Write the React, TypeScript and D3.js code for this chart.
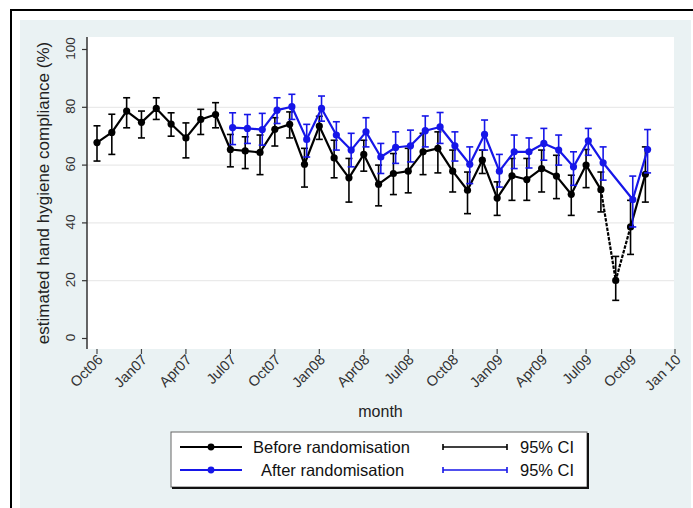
import { useEffect, useRef } from 'react'
import * as d3 from 'd3'

const W = 693
const H = 508

// months are counted from Oct 2006 (= 0)
const tickMonths = [0, 3, 6, 9, 12, 15, 18, 21, 24, 27, 30, 33, 36, 39]
const tickLabels = ['Oct06', 'Jan07', 'Apr07', 'Jul07', 'Oct07', 'Jan08', 'Apr08', 'Jul08', 'Oct08', 'Jan09', 'Apr09', 'Jul09', 'Oct09', 'Jan 10']
const yTicks = [0, 20, 40, 60, 80, 100]

const beforeMonth = [0, 1, 2, 3, 4, 5, 6, 7, 8, 9, 10, 11, 12, 13, 14, 15, 16, 17, 18, 19, 20, 21, 22, 23, 24, 25, 26, 27, 28, 29, 30, 31, 32, 33, 34, 35, 36, 37]
const beforeEst = [67.8, 71.3, 78.7, 74.8, 79.6, 74.2, 69.4, 75.8, 77.5, 65.4, 64.9, 64.4, 72.4, 74.1, 60.3, 73.5, 62.5, 55.6, 63.7, 53.4, 57.1, 57.9, 64.6, 65.8, 57.9, 51.3, 61.7, 48.6, 56.3, 55.0, 58.8, 56.2, 49.9, 60.0, 51.5, 20.1, 38.6, 56.8]
const beforeLo = [61.4, 63.7, 72.9, 69.4, 75.8, 70.0, 62.5, 70.6, 72.9, 59.4, 58.8, 56.7, 66.6, 69.4, 52.4, 68.9, 55.6, 47.2, 57.9, 45.9, 49.8, 50.4, 56.7, 57.3, 50.7, 43.2, 57.1, 42.6, 47.8, 47.8, 50.7, 48.4, 42.6, 52.2, 43.8, 13.2, 29.1, 47.2]
const beforeHi = [73.6, 77.6, 83.3, 78.7, 83.3, 78.1, 74.6, 79.3, 81.6, 70.6, 69.8, 70.4, 76.4, 78.4, 65.8, 76.9, 68.6, 62.3, 68.6, 60.0, 64.0, 65.8, 71.0, 71.5, 65.2, 57.6, 65.2, 54.2, 62.3, 62.3, 65.2, 63.4, 56.5, 65.4, 57.6, 28.4, 47.8, 66.3]
// the drop around Sep09 is drawn dashed
const beforeDashed = [34, 36]

// no "after" estimate for Sep09
const afterMonth = [9, 10, 11, 12, 13, 14, 15, 16, 17, 18, 19, 20, 21, 22, 23, 24, 25, 26, 27, 28, 29, 30, 31, 32, 33, 34, 36, 37]
const afterEst = [73.0, 72.7, 72.3, 79.0, 80.2, 68.9, 79.6, 70.4, 65.2, 71.5, 62.8, 66.1, 66.7, 71.9, 73.2, 66.7, 60.3, 70.6, 57.9, 64.6, 64.6, 67.5, 65.2, 59.4, 68.4, 60.8, 48.1, 65.4]
const afterLo = [67.1, 67.5, 66.9, 74.4, 75.8, 62.8, 75.2, 65.2, 59.4, 66.3, 57.1, 60.6, 61.1, 66.3, 67.5, 61.4, 53.6, 65.2, 52.4, 58.8, 59.0, 61.7, 60.0, 53.0, 63.4, 54.8, 38.6, 57.3]
const afterHi = [78.1, 77.5, 77.9, 83.3, 84.5, 74.1, 83.9, 75.0, 71.0, 76.4, 67.5, 71.5, 72.1, 77.0, 78.2, 71.5, 66.3, 75.6, 63.7, 70.4, 69.4, 72.7, 70.4, 64.6, 72.7, 66.3, 56.2, 72.3]
// after-randomisation points sit a few days later in the month
const afterShift = 0.15

const BLUE = '#1616e8'
const FONT = '"Liberation Sans", Arial, Helvetica, sans-serif'

export default function App() {
  const svgRef = useRef<SVGSVGElement>(null)

  useEffect(() => {
    if (!svgRef.current) return
    const svg = d3.select(svgRef.current)
    svg.selectAll('*').remove()
    svg.attr('font-family', FONT)

    const plot = { left: 87, right: 674, top: 37, bottom: 349 }
    const x = d3.scaleLinear().domain([0, 39]).range([97, 675])
    const y = d3.scaleLinear().domain([0, 100]).range([338.5, 49.5])

    // page, graph region, frame
    svg.append('rect').attr('width', W).attr('height', H).attr('fill', '#fff')
    svg.append('rect')
      .attr('x', 20).attr('y', 20)
      .attr('width', W - 22).attr('height', H - 20)
      .attr('fill', '#eaf2f3')
    svg.append('path')
      .attr('d', `M11,${H} V10 H${W}`)
      .attr('fill', 'none').attr('stroke', '#000').attr('stroke-width', 2)

    svg.append('rect')
      .attr('x', plot.left).attr('y', plot.top)
      .attr('width', plot.right - plot.left).attr('height', plot.bottom - plot.top)
      .attr('fill', '#fff')

    // grid
    yTicks.filter(t => t > 0 && t < 100).forEach(t => {
      svg.append('line')
        .attr('x1', plot.left).attr('x2', plot.right)
        .attr('y1', y(t)).attr('y2', y(t))
        .attr('stroke', '#eaeaea').attr('stroke-width', 1.2)
    })

    // y axis
    svg.append('line')
      .attr('x1', plot.left).attr('x2', plot.left)
      .attr('y1', plot.top).attr('y2', plot.bottom)
      .attr('stroke', '#333').attr('stroke-width', 1.5)
    yTicks.forEach(t => {
      svg.append('line')
        .attr('x1', plot.left - 5).attr('x2', plot.left)
        .attr('y1', y(t)).attr('y2', y(t))
        .attr('stroke', '#333').attr('stroke-width', 1.2)
      svg.append('text')
        .attr('transform', `translate(75,${y(t) - 1}) rotate(-90)`)
        .attr('text-anchor', 'middle')
        .attr('font-size', 13.5)
        .attr('fill', '#333')
        .text(t)
    })
    svg.append('text')
      .attr('transform', `translate(49,${(plot.top + plot.bottom) / 2}) rotate(-90)`)
      .attr('text-anchor', 'middle')
      .attr('font-size', 17)
      .attr('fill', '#222')
      .text('estimated hand hygiene compliance (%)')

    // x axis
    tickMonths.forEach((m, i) => {
      svg.append('line')
        .attr('x1', x(m)).attr('x2', x(m))
        .attr('y1', plot.bottom).attr('y2', plot.bottom + 5)
        .attr('stroke', '#444').attr('stroke-width', 1.2)
      svg.append('text')
        .attr('transform', `translate(${x(m) + 3},${plot.bottom + 8}) rotate(-45)`)
        .attr('text-anchor', 'end')
        .attr('dy', '0.35em')
        .attr('font-size', 14.5)
        .attr('fill', '#333')
        .text(tickLabels[i])
    })
    svg.append('text')
      .attr('x', (plot.left + plot.right) / 2).attr('y', 417)
      .attr('text-anchor', 'middle')
      .attr('font-size', 16)
      .attr('fill', '#222')
      .text('month')

    const drawSeries = (
      months: number[], est: number[], lo: number[], hi: number[],
      color: string, shift: number, dashed: number[] | null,
    ) => {
      const g = svg.append('g')
      const idx = months.map((_, i) => i)
      const line = d3.line<number>().x(i => x(months[i] + shift)).y(i => y(est[i]))

      // CI whiskers
      idx.forEach(i => {
        const cx = x(months[i] + shift)
        g.append('line')
          .attr('x1', cx).attr('x2', cx)
          .attr('y1', y(lo[i])).attr('y2', y(hi[i]))
          .attr('stroke', color).attr('stroke-width', 1.6)
        ;[lo[i], hi[i]].forEach(v => {
          g.append('line')
            .attr('x1', cx - 3.5).attr('x2', cx + 3.5)
            .attr('y1', y(v)).attr('y2', y(v))
            .attr('stroke', color).attr('stroke-width', 1.6)
        })
      })

      if (dashed) {
        const [a, b] = dashed
        const solidA = idx.filter(i => months[i] <= a)
        const solidB = idx.filter(i => months[i] >= b)
        const dash = idx.filter(i => months[i] >= a && months[i] <= b)
        ;[solidA, solidB].forEach(part => {
          g.append('path').attr('d', line(part)).attr('fill', 'none')
            .attr('stroke', color).attr('stroke-width', 2.2).attr('stroke-linejoin', 'round')
        })
        g.append('path').attr('d', line(dash)).attr('fill', 'none')
          .attr('stroke', color).attr('stroke-width', 2.2).attr('stroke-dasharray', '3.5 1.3')
      } else {
        g.append('path').attr('d', line(idx)).attr('fill', 'none')
          .attr('stroke', color).attr('stroke-width', 2.2).attr('stroke-linejoin', 'round')
      }

      idx.forEach(i => {
        g.append('circle')
          .attr('cx', x(months[i] + shift)).attr('cy', y(est[i]))
          .attr('r', 3.6).attr('fill', color)
      })
    }

    drawSeries(beforeMonth, beforeEst, beforeLo, beforeHi, '#000', 0, beforeDashed)
    drawSeries(afterMonth, afterEst, afterLo, afterHi, BLUE, afterShift, null)

    // legend
    const lg = svg.append('g')
    lg.append('rect')
      .attr('x', 171).attr('y', 432).attr('width', 416).attr('height', 55)
      .attr('fill', '#fff').attr('stroke', '#666').attr('stroke-width', 1)
    lg.append('path')
      .attr('d', 'M588,433 V488 H172')
      .attr('fill', 'none').attr('stroke', '#111').attr('stroke-width', 2)

    const rows = [
      { label: 'Before randomisation', color: '#000', ly: 447, tx: 253 },
      { label: 'After randomisation', color: BLUE, ly: 470, tx: 261 },
    ]
    rows.forEach(r => {
      lg.append('line')
        .attr('x1', 180).attr('x2', 242).attr('y1', r.ly).attr('y2', r.ly)
        .attr('stroke', r.color).attr('stroke-width', 2.2)
      lg.append('circle').attr('cx', 211).attr('cy', r.ly).attr('r', 3.4).attr('fill', r.color)
      lg.append('text')
        .attr('x', r.tx).attr('y', r.ly + 5.5)
        .attr('font-size', 16.5).attr('fill', '#111')
        .text(r.label)

      lg.append('line')
        .attr('x1', 443).attr('x2', 507).attr('y1', r.ly).attr('y2', r.ly)
        .attr('stroke', r.color).attr('stroke-width', 1.6)
      ;[443, 507].forEach(cx => {
        lg.append('line')
          .attr('x1', cx).attr('x2', cx).attr('y1', r.ly - 3).attr('y2', r.ly + 3)
          .attr('stroke', r.color).attr('stroke-width', 1.6)
      })
      lg.append('text')
        .attr('x', 520).attr('y', r.ly + 5.5)
        .attr('font-size', 16.5).attr('fill', '#111')
        .text('95% CI')
    })
  }, [])

  return (
    <svg
      ref={svgRef}
      width={W}
      height={H}
      style={{ position: 'absolute', left: 0, top: 0, display: 'block' }}
    />
  )
}
